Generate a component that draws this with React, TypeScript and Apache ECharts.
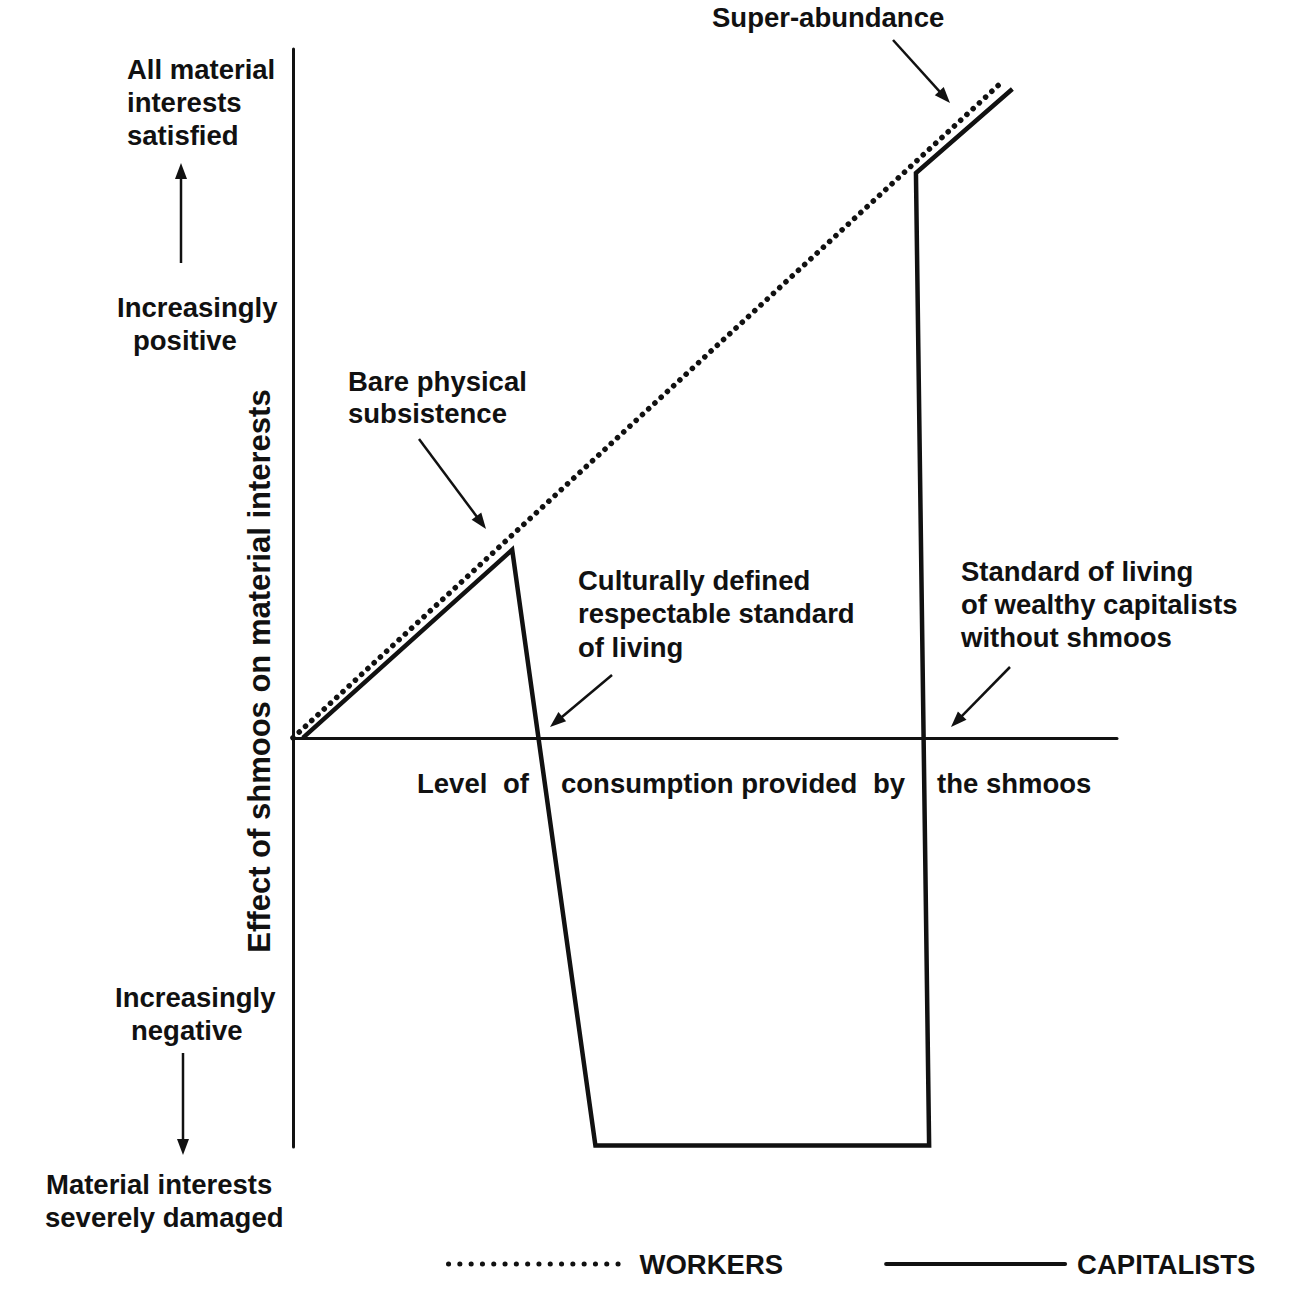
import React, { useEffect, useRef } from "react";
import * as echarts from "echarts";

// Data (arbitrary units: x 0..100 along consumption; y -59.4..100 effect)
const workersX = [0, 86.3];
const workersY = [0, 95.5];
const capitalistsX = [1.2, 26.6, 36.7, 77.2, 75.6, 87.3];
const capitalistsY = [0, 27.3, -59.2, -59.2, 82.0, 94.2];
const seriesNames = ["WORKERS", "CAPITALISTS"];

const FONT = "'Liberation Sans', Arial, sans-serif";
const FS = 27.5;

if (typeof document !== "undefined") {
  document.body.style.margin = "0";
}

function txt(text: string, x: number, y: number, align: string = "left", extra: any = {}, fs: number = FS) {
  return {
    type: "text",
    x,
    y,
    silent: true,
    style: {
      text,
      fontFamily: FONT,
      fontSize: fs,
      fontWeight: "bold",
      fill: "#111",
      textAlign: align,
      textVerticalAlign: "middle",
      verticalAlign: "middle",
    },
    ...extra,
  };
}

function arrow(x1: number, y1: number, x2: number, y2: number) {
  const dx = x2 - x1;
  const dy = y2 - y1;
  const len = Math.sqrt(dx * dx + dy * dy);
  const ux = dx / len;
  const uy = dy / len;
  const hl = 16;
  const hw = 6;
  const bx = x2 - ux * hl;
  const by = y2 - uy * hl;
  return {
    type: "group",
    silent: true,
    children: [
      {
        type: "line",
        shape: { x1, y1, x2: bx + ux * 2, y2: by + uy * 2 },
        style: { stroke: "#111", lineWidth: 2.5 },
      },
      {
        type: "polygon",
        shape: {
          points: [
            [x2, y2],
            [bx - uy * hw, by + ux * hw],
            [bx + uy * hw, by - ux * hw],
          ],
        },
        style: { fill: "#111" },
      },
    ],
  };
}

export default function App() {
  const ref = useRef<HTMLDivElement>(null);
  useEffect(() => {
    if (!ref.current) return;
    document.body.style.margin = "0";
    const chart = echarts.init(ref.current, null, { renderer: "svg" });
    const workers = workersX.map((x, i) => [x, workersY[i]]);
    const capitalists = capitalistsX.map((x, i) => [x, capitalistsY[i]]);
    chart.setOption({
      animation: false,
      backgroundColor: "#fff",
      grid: { left: 293, right: 183, top: 49, bottom: 163, containLabel: false },
      xAxis: {
        type: "value",
        min: 0,
        max: 100,
        axisLine: { show: true, onZero: true, lineStyle: { color: "#111", width: 3 } },
        axisTick: { show: false },
        axisLabel: { show: false },
        splitLine: { show: false },
      },
      yAxis: {
        type: "value",
        min: -59.4,
        max: 100,
        axisLine: { show: true, onZero: false, lineStyle: { color: "#111", width: 3 } },
        axisTick: { show: false },
        axisLabel: { show: false },
        splitLine: { show: false },
      },
      legend: {
        left: 441,
        top: 1245,
        itemWidth: 179,
        itemHeight: 14,
        itemGap: 101,
        data: [
          {
            name: seriesNames[0],
            itemStyle: { opacity: 0 },
            lineStyle: { color: "#111", width: 5, type: [0.1, 11.2], cap: "round" },
          },
          {
            name: seriesNames[1],
            itemStyle: { opacity: 0 },
            lineStyle: { color: "#111", width: 4, cap: "round" },
          },
        ],
        textStyle: {
          fontFamily: FONT,
          fontSize: FS,
          fontWeight: "bold",
          color: "#111",
          padding: [0, 0, 0, 7],
        },
      },
      series: [
        {
          name: seriesNames[0],
          type: "line",
          symbol: "none",
          data: workers,
          lineStyle: { color: "#111", width: 5.5, type: [0.1, 8.4], cap: "round" },
          itemStyle: { color: "#111" },
          z: 3,
        },
        {
          name: seriesNames[1],
          type: "line",
          symbol: "none",
          data: capitalists,
          lineStyle: { color: "#111", width: 4.5, join: "miter" },
          itemStyle: { color: "#111" },
          z: 4,
        },
      ],
      graphic: [
        txt("Super-abundance", 712, 17),
        txt("All material", 127, 69),
        txt("interests", 127, 102),
        txt("satisfied", 127, 135),
        txt("Increasingly", 117, 307),
        txt("positive", 133, 340),
        txt("Increasingly", 115, 997),
        txt("negative", 131, 1030),
        txt("Material interests", 46, 1184),
        txt("severely damaged", 45, 1217),
        txt("Bare physical", 348, 381),
        txt("subsistence", 348, 413),
        txt("Culturally defined", 578, 580),
        txt("respectable standard", 578, 613),
        txt("of living", 578, 647),
        txt("Standard of living", 961, 571),
        txt("of wealthy capitalists", 961, 604),
        txt("without shmoos", 961, 637),
        txt("Level", 417, 783),
        txt("of", 503, 783),
        txt("consumption provided", 561, 783),
        txt("by", 873, 783),
        txt("the shmoos", 937, 783),
        txt("Effect of shmoos on material interests", 259, 671, "center", { rotation: Math.PI / 2 }, 31),
        arrow(181, 263, 181, 163),
        arrow(183, 1053, 183, 1155),
        arrow(419, 439, 486, 529),
        arrow(612, 675, 550, 727),
        arrow(1010, 667, 951, 727),
        arrow(893, 40, 950, 103),
      ],
    });
    return () => chart.dispose();
  }, []);
  return <div ref={ref} style={{ width: 1300, height: 1310 }} />;
}
